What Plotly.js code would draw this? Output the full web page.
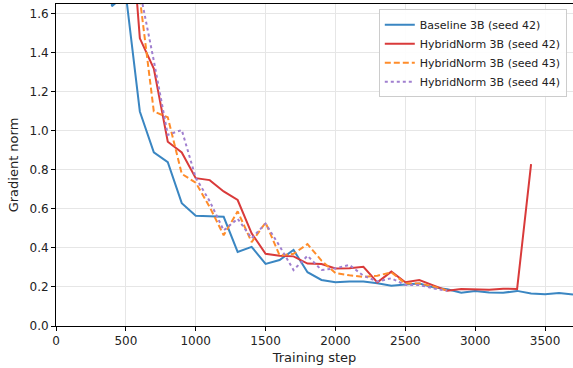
<!DOCTYPE html>
<html>
<head>
<meta charset="utf-8">
<script src="https://cdn.plot.ly/plotly-3.0.1.min.js"></script>
<style>html,body{margin:0;padding:0;background:#fff;}#chart{width:573px;height:368px;}</style>
</head>
<body>
<div id="chart"></div>
<script>
const baselineSteps = [300,400,500,600,700,800,900,1000,1100,1200,1300,1400,1500,1600,1700,1800,1900,2000,2100,2200,2300,2400,2500,2600,2700,2800,2900,3000,3100,3200,3300,3400,3500,3600,3700];
const baselineNorm = [6.0,1.64,1.70,1.10,0.89,0.84,0.63,0.565,0.563,0.56,0.38,0.406,0.318,0.338,0.39,0.276,0.236,0.224,0.228,0.228,0.219,0.206,0.213,0.218,0.198,0.188,0.17,0.18,0.172,0.17,0.18,0.167,0.163,0.169,0.161];

const hybrid42Steps = [500,600,700,800,900,1000,1100,1200,1300,1400,1500,1600,1700,1800,1900,2000,2100,2200,2300,2400,2500,2600,2700,2800,2900,3000,3100,3200,3300,3400];
const hybrid42Norm = [2.4,1.475,1.32,0.945,0.89,0.758,0.748,0.69,0.646,0.475,0.37,0.36,0.357,0.32,0.318,0.295,0.296,0.304,0.224,0.279,0.224,0.236,0.208,0.181,0.19,0.189,0.186,0.191,0.19,0.83];

const hybrid43Steps = [500,600,700,800,900,1000,1100,1200,1300,1400,1500,1600,1700,1800,1900,2000,2100,2200,2300,2400,2500,2600,2700,2800];
const hybrid43Norm = [2.6,1.68,1.10,1.07,0.78,0.735,0.61,0.465,0.588,0.43,0.53,0.362,0.37,0.42,0.335,0.272,0.26,0.252,0.258,0.275,0.218,0.218,0.203,0.182];

const hybrid44Steps = [500,600,700,800,900,1000,1100,1200,1300,1400,1500,1600,1700,1800,1900,2000,2100,2200,2300,2400,2500,2600,2700,2800];
const hybrid44Norm = [2.6,1.72,1.36,0.98,1.005,0.76,0.64,0.49,0.55,0.45,0.525,0.41,0.287,0.36,0.287,0.296,0.313,0.258,0.228,0.245,0.21,0.21,0.193,0.18];

const seriesNames = ["Baseline 3B (seed 42)","HybridNorm 3B (seed 42)","HybridNorm 3B (seed 43)","HybridNorm 3B (seed 44)"];
const xTicks = [0,500,1000,1500,2000,2500,3000,3500];
const yTicks = [0,0.2,0.4,0.6,0.8,1.0,1.2,1.4,1.6];
const yTickLabels = ["0.0","0.2","0.4","0.6","0.8","1.0","1.2","1.4","1.6"];

const traces = [
  {x: baselineSteps, y: baselineNorm, name: seriesNames[0], mode: "lines", line: {color: "#3a86c2", width: 2}},
  {x: hybrid42Steps, y: hybrid42Norm, name: seriesNames[1], mode: "lines", line: {color: "#d93a3a", width: 2}},
  {x: hybrid43Steps, y: hybrid43Norm, name: seriesNames[2], mode: "lines", line: {color: "#ff8c2a", width: 2, dash: "6px,3px"}},
  {x: hybrid44Steps, y: hybrid44Norm, name: seriesNames[3], mode: "lines", line: {color: "#a07fcf", width: 2, dash: "dot"}}
];

const layout = {
  width: 573, height: 368,
  margin: {l: 56, r: 0, t: 4, b: 42, pad: 0},
  paper_bgcolor: "#fff", plot_bgcolor: "#fff",
  font: {family: "DejaVu Sans, sans-serif", size: 12, color: "#000"},
  showlegend: true,
  legend: {x: 0.988, y: 0.984, xanchor: "right", yanchor: "top", bgcolor: "rgba(255,255,255,0.9)", bordercolor: "#cccccc", borderwidth: 1, font: {size: 11, family: "DejaVu Sans, sans-serif", color: "#222"}, itemwidth: 30, tracegroupgap: 0},
  xaxis: {
    range: [0, 3700], tickvals: xTicks, ticktext: xTicks.map(String),
    showgrid: true, gridcolor: "#e6e6e6", gridwidth: 1,
    showline: true, linecolor: "#000", linewidth: 1, mirror: true,
    ticks: "outside", ticklen: 4, tickcolor: "#000", zeroline: false,
    tickfont: {size: 12, color: "#222"},
    title: {text: "Training step", font: {size: 13, color: "#222"}, standoff: 5}
  },
  yaxis: {
    range: [0, 1.651], tickvals: yTicks, ticktext: yTickLabels,
    showgrid: true, gridcolor: "#e6e6e6", gridwidth: 1,
    showline: true, linecolor: "#000", linewidth: 1, mirror: true,
    ticks: "outside", ticklen: 4, tickcolor: "#000", zeroline: false,
    tickfont: {size: 12, color: "#222"},
    title: {text: "Gradient norm", font: {size: 13, color: "#222"}, standoff: 7}
  }
};

Plotly.newPlot("chart", traces, layout, {displayModeBar: false, staticPlot: true});
</script>
</body>
</html>
